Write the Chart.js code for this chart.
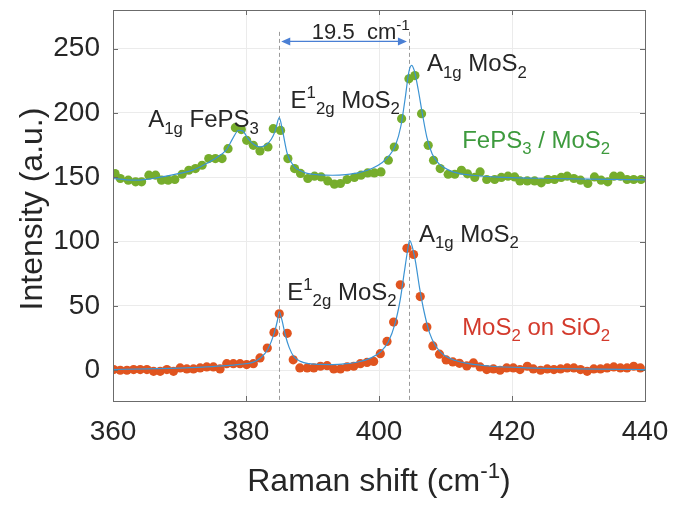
<!DOCTYPE html>
<html>
<head>
<meta charset="utf-8">
<script src="https://cdn.jsdelivr.net/npm/chart.js@4.4.1/dist/chart.umd.min.js"></script>
<style>
  body { margin: 0; background: #fff; }
  #wrap { width: 673px; height: 505px; }
</style>
</head>
<body>
<div id="wrap"><canvas id="ramanChart" width="673" height="505"></canvas></div>
<script>
// FePS3 / MoS2 measured points
const shiftFeps = [360.3, 361.1, 362.3, 363.4, 364.3, 365.4, 366.4, 367.3, 368.3, 369.3,
  370.4, 371.4, 372.4, 373.4, 374.4, 375.4, 376.4, 377.3, 378.4, 379.3,
  380.1, 381.1, 382.1, 383.3, 384.1, 385.2, 386.3, 387.3, 388.2, 389.3,
  390.3, 391.3, 392.3, 393.3, 394.2, 395.2, 396.3, 397.3, 398.3, 399.3,
  400.3, 401.4, 402.3, 403.4, 404.5, 405.4, 406.4, 407.4, 408.2, 409.2,
  410.4, 411.4, 412.4, 413.3, 414.4, 415.2, 416.2, 417.4, 418.4, 419.4,
  420.4, 421.2, 422.3, 423.4, 424.4, 425.4, 426.4, 427.4, 428.3, 429.3,
  430.3, 431.4, 432.4, 433.4, 434.4, 435.3, 436.3, 437.3, 438.3, 439.4];
const intensityFeps = [152.8, 149.0, 147.7, 146.4, 146.4, 151.6, 151.6, 147.7, 147.7, 148.2,
  152.3, 155.4, 156.7, 159.3, 164.5, 164.5, 164.5, 172.2, 188.5, 187.0,
  178.7, 174.8, 170.4, 173.5, 187.7, 186.4, 164.5, 156.7, 152.9, 149.0,
  150.8, 150.2, 147.1, 144.6, 145.1, 148.2, 149.8, 151.6, 153.3, 153.3,
  154.1, 163.2, 173.5, 195.5, 226.5, 229.0, 199.4, 174.8, 163.2, 156.7,
  152.3, 152.3, 155.4, 152.6, 149.8, 154.1, 148.2, 148.2, 149.8, 150.8,
  150.2, 147.1, 147.1, 147.1, 145.6, 148.2, 148.2, 149.8, 150.8, 149.0,
  147.7, 145.1, 150.2, 147.7, 146.4, 150.8, 150.8, 148.2, 148.2, 148.2];

// MoS2 on SiO2 measured points
const shiftSio2 = [360.1, 361.1, 362.1, 363.1, 364.1, 365.1, 366.1, 367.1, 368.1, 369.1,
  370.1, 371.1, 372.1, 373.1, 374.1, 375.1, 376.1, 377.1, 378.1, 379.1,
  380.1, 381.1, 382.1, 383.2, 384.2, 385.0, 386.2, 387.1, 388.1, 389.2,
  390.2, 391.2, 392.2, 393.2, 394.2, 395.2, 396.2, 397.2, 398.2, 399.2,
  400.2, 401.2, 402.2, 403.2, 404.2, 405.2, 406.2, 407.2, 408.1, 409.1,
  410.1, 411.1, 412.1, 413.2, 414.2, 415.2, 416.2, 417.2, 418.2, 419.2,
  420.2, 421.2, 422.3, 423.2, 424.3, 425.3, 426.3, 427.3, 428.3, 429.3,
  430.3, 431.3, 432.3, 433.3, 434.3, 435.3, 436.3, 437.3, 438.3, 439.3];
const intensitySio2 = [0.4, -0.1, -0.1, 0.4, 0.4, 0.4, -0.9, -0.9, 0.4, -0.9,
  1.7, 0.9, 0.9, 1.7, 2.5, 2.5, 0.9, 5.0, 5.0, 5.0,
  4.3, 5.0, 9.5, 17.2, 29.3, 43.8, 28.6, 8.0, 1.7, 1.7,
  1.7, 3.0, 3.5, 0.9, 0.9, 2.5, 3.0, 5.0, 6.0, 6.8,
  12.8, 22.3, 37.4, 66.3, 94.7, 89.9, 57.2, 33.5, 18.8, 12.4,
  7.9, 6.4, 5.3, 3.3, 5.6, 2.5, 0.4, 0.9, -0.1, 1.7,
  1.7, 0.4, 3.0, 0.9, -0.1, 0.9, 0.4, 0.9, 1.7, 1.7,
  0.4, -0.9, 0.9, 0.9, 1.7, 2.5, 1.7, 1.7, 3.0, 1.7];

// fitted curves
const fitShiftFeps = [360, 362, 364, 366, 368, 370, 372, 374, 375.5, 377, 378, 378.9, 379.5, 380.3,
  381.2, 382.1, 383, 383.8, 384.4, 385, 385.5, 386.2, 387.2, 388.2, 389.2, 391, 393, 395, 397,
  399, 400.5, 401.5, 402.5, 403.3, 403.9, 404.5, 404.9, 405.3, 405.9, 406.5, 407.2, 408, 409,
  410.5, 412, 414, 418, 424, 432, 440];
const fitFeps = [149, 148, 147.8, 149, 150.8, 153, 155.5, 160.5, 165, 171, 180, 186.5, 186, 180,
  175.5, 173.5, 175, 179.5, 186, 196.3, 186, 168.4, 158.5, 155, 153, 151.8, 151.5, 152, 153.5,
  157, 161.5, 166.5, 175, 190, 210, 232, 237, 233, 218, 200, 181, 168, 160.5,
  155.5, 153, 151.5, 150, 149.2, 148.5, 148];
const fitShiftSio2 = [360, 365, 370, 374, 377, 379, 381, 382.3, 383.3, 384.2, 384.7, 385, 385.4,
  385.9, 386.5, 387.2, 388.2, 389.5, 391, 393, 395, 397, 398.8, 400.3, 401.4, 402.4, 403.2,
  403.8, 404.3, 404.6, 405, 405.5, 406.1, 406.8, 407.6, 408.5, 409.8, 411.5, 413.5, 417, 422,
  430, 440];
const fitSio2 = [0.5, 1, 1.5, 2.5, 3.5, 4.5, 6, 10, 16.5, 28, 38, 45.6, 39,
  27.5, 17.5, 10.5, 6.8, 5, 4.4, 4.3, 5, 6.5, 9.5, 14.5, 22, 36, 55,
  76, 93, 101, 96, 84, 64, 45, 29, 19, 11.5, 7.5, 5, 3, 1.8,
  1, 0.5];

const xTicks = [360, 380, 400, 420, 440];
const yTicks = [0, 50, 100, 150, 200, 250];
const peakLines = [385, 404.5];

const fontFamily = '"Liberation Sans", Arial, Helvetica, sans-serif';
const textColor = '#262626';

function toPoints(xs, ys) {
    return xs.map(function (x, i) { return { x: x, y: ys[i] }; });
}

// draws text with sub/superscripts, left-aligned at (x, y) baseline
function drawRich(ctx, x, y, parts, size, color) {
    let cx = x;
    ctx.fillStyle = color;
    ctx.textBaseline = 'alphabetic';
    ctx.textAlign = 'left';
    parts.forEach(function (p) {
        const small = p.s ? size * 0.7 : size;
        const dy = p.s === 'sub' ? size * 0.28 : (p.s === 'sup' ? -size * 0.42 : 0);
        ctx.font = small + 'px ' + fontFamily;
        ctx.fillText(p.t, cx, y + dy);
        cx += ctx.measureText(p.t).width;
    });
    return cx - x;
}

function richWidth(ctx, parts, size) {
    let w = 0;
    parts.forEach(function (p) {
        ctx.font = (p.s ? size * 0.7 : size) + 'px ' + fontFamily;
        w += ctx.measureText(p.t).width;
    });
    return w;
}

const decorPlugin = {
    id: 'decor',
    beforeDatasetsDraw: function (chart) {
        const ctx = chart.ctx;
        const xs = chart.scales.x, ys = chart.scales.y;
        ctx.save();
        ctx.strokeStyle = '#9a9a9a';
        ctx.lineWidth = 1;
        ctx.setLineDash([4, 3]);
        peakLines.forEach(function (v) {
            const px = Math.round(xs.getPixelForValue(v)) + 0.5;
            ctx.beginPath();
            ctx.moveTo(px, ys.getPixelForValue(263));
            ctx.lineTo(px, chart.chartArea.bottom);
            ctx.stroke();
        });
        ctx.restore();
    },
    afterDraw: function (chart) {
        const ctx = chart.ctx;
        const a = chart.chartArea;
        const xs = chart.scales.x, ys = chart.scales.y;
        ctx.save();

        // box and inward ticks
        ctx.strokeStyle = '#6b6b6b';
        ctx.lineWidth = 1;
        ctx.strokeRect(Math.round(a.left) + 0.5, Math.round(a.top) + 0.5,
            Math.round(a.right - a.left), Math.round(a.bottom - a.top));
        ctx.beginPath();
        xTicks.forEach(function (v) {
            const px = Math.round(xs.getPixelForValue(v)) + 0.5;
            ctx.moveTo(px, a.bottom); ctx.lineTo(px, a.bottom - 5);
            ctx.moveTo(px, a.top); ctx.lineTo(px, a.top + 5);
        });
        yTicks.forEach(function (v) {
            const py = Math.round(ys.getPixelForValue(v)) + 0.5;
            ctx.moveTo(a.left, py); ctx.lineTo(a.left + 5, py);
            ctx.moveTo(a.right, py); ctx.lineTo(a.right - 5, py);
        });
        ctx.stroke();

        // peak spacing arrow
        const ay = ys.getPixelForValue(255.6);
        const ax1 = xs.getPixelForValue(385.3), ax2 = xs.getPixelForValue(404.2);
        ctx.strokeStyle = '#4a7fd4';
        ctx.fillStyle = '#4a7fd4';
        ctx.lineWidth = 1.2;
        ctx.beginPath();
        ctx.moveTo(ax1 + 6, ay); ctx.lineTo(ax2 - 6, ay);
        ctx.stroke();
        ctx.beginPath();
        ctx.moveTo(ax1, ay); ctx.lineTo(ax1 + 9, ay - 4); ctx.lineTo(ax1 + 9, ay + 4); ctx.closePath();
        ctx.moveTo(ax2, ay); ctx.lineTo(ax2 - 9, ay - 4); ctx.lineTo(ax2 - 9, ay + 4); ctx.closePath();
        ctx.fill();

        // annotations
        const notes = [
            { x: 365.3, y: 189.2, c: textColor, size: 24, parts: [{ t: 'A' }, { t: '1g', s: 'sub' }, { t: ' FePS' }, { t: '3', s: 'sub' }] },
            { x: 386.7, y: 204, c: textColor, size: 24, parts: [{ t: 'E' }, { t: '1', s: 'sup' }, { t: '2g', s: 'sub' }, { t: ' MoS' }, { t: '2', s: 'sub' }] },
            { x: 407.2, y: 232.2, c: textColor, size: 24, parts: [{ t: 'A' }, { t: '1g', s: 'sub' }, { t: ' MoS' }, { t: '2', s: 'sub' }] },
            { x: 412.5, y: 172.9, c: '#3d9a3d', size: 24, parts: [{ t: 'FePS' }, { t: '3', s: 'sub' }, { t: ' / MoS' }, { t: '2', s: 'sub' }] },
            { x: 389.9, y: 257.6, c: textColor, size: 22, parts: [{ t: '19.5  cm' }, { t: '-1', s: 'sup' }] },
            { x: 386.2, y: 54.8, c: textColor, size: 24, parts: [{ t: 'E' }, { t: '1', s: 'sup' }, { t: '2g', s: 'sub' }, { t: ' MoS' }, { t: '2', s: 'sub' }] },
            { x: 406.0, y: 100, c: textColor, size: 24, parts: [{ t: 'A' }, { t: '1g', s: 'sub' }, { t: ' MoS' }, { t: '2', s: 'sub' }] },
            { x: 412.5, y: 27.6, c: '#d33a2c', size: 24, parts: [{ t: 'MoS' }, { t: '2', s: 'sub' }, { t: ' on SiO' }, { t: '2', s: 'sub' }] }
        ];
        notes.forEach(function (n) {
            drawRich(ctx, xs.getPixelForValue(n.x), ys.getPixelForValue(n.y), n.parts, n.size, n.c);
        });

        // axis titles
        const xTitle = [{ t: 'Raman shift (cm' }, { t: '-1', s: 'sup' }, { t: ')' }];
        const tw = richWidth(ctx, xTitle, 32);
        drawRich(ctx, (a.left + a.right) / 2 - tw / 2, 491, xTitle, 32, textColor);

        ctx.translate(42, 209);
        ctx.rotate(-Math.PI / 2);
        ctx.font = '32px ' + fontFamily;
        ctx.fillStyle = textColor;
        ctx.textAlign = 'center';
        ctx.textBaseline = 'alphabetic';
        ctx.fillText('Intensity (a.u.)', 0, 0);
        ctx.restore();
    }
};

const canvas = document.getElementById('ramanChart');
new Chart(canvas.getContext('2d'), {
    type: 'line',
    data: {
        datasets: [
            {
                label: 'FePS3 / MoS2 fit',
                data: toPoints(fitShiftFeps, fitFeps),
                borderColor: '#3b93d3',
                borderWidth: 1.2,
                pointRadius: 0,
                cubicInterpolationMode: 'monotone',
                order: 0
            },
            {
                label: 'MoS2 on SiO2 fit',
                data: toPoints(fitShiftSio2, fitSio2),
                borderColor: '#3b93d3',
                borderWidth: 1.2,
                pointRadius: 0,
                cubicInterpolationMode: 'monotone',
                order: 0
            },
            {
                label: 'FePS3 / MoS2',
                data: toPoints(shiftFeps, intensityFeps),
                showLine: false,
                pointRadius: 4.6,
                pointBorderWidth: 0,
                pointBackgroundColor: '#76ad2c',
                order: 1
            },
            {
                label: 'MoS2 on SiO2',
                data: toPoints(shiftSio2, intensitySio2),
                showLine: false,
                pointRadius: 4.6,
                pointBorderWidth: 0,
                pointBackgroundColor: '#e0541f',
                order: 1
            }
        ]
    },
    options: {
        responsive: false,
        animation: false,
        layout: { padding: { top: 10, right: 28, left: 0, bottom: 0 } },
        plugins: {
            legend: { display: false },
            tooltip: { enabled: false }
        },
        scales: {
            x: {
                type: 'linear',
                min: 360,
                max: 440,
                afterBuildTicks: function (scale) {
                    scale.ticks = xTicks.map(function (v) { return { value: v }; });
                },
                afterFit: function (scale) {
                    scale.height = 104;
                    scale.paddingLeft = 0;
                    scale.paddingRight = 0;
                },
                border: { display: false },
                grid: { color: '#ebebeb', drawTicks: false },
                ticks: {
                    padding: 14,
                    maxRotation: 0,
                    color: textColor,
                    font: { family: fontFamily, size: 28 }
                }
            },
            y: {
                min: -24,
                max: 280,
                afterBuildTicks: function (scale) {
                    scale.ticks = yTicks.map(function (v) { return { value: v }; });
                },
                afterFit: function (scale) {
                    scale.width = 113;
                    scale.paddingTop = 0;
                    scale.paddingBottom = 0;
                },
                border: { display: false },
                grid: { color: '#ebebeb', drawTicks: false },
                ticks: {
                    padding: 13,
                    color: textColor,
                    font: { family: fontFamily, size: 28 }
                }
            }
        }
    },
    plugins: [decorPlugin]
});
</script>
</body>
</html>
